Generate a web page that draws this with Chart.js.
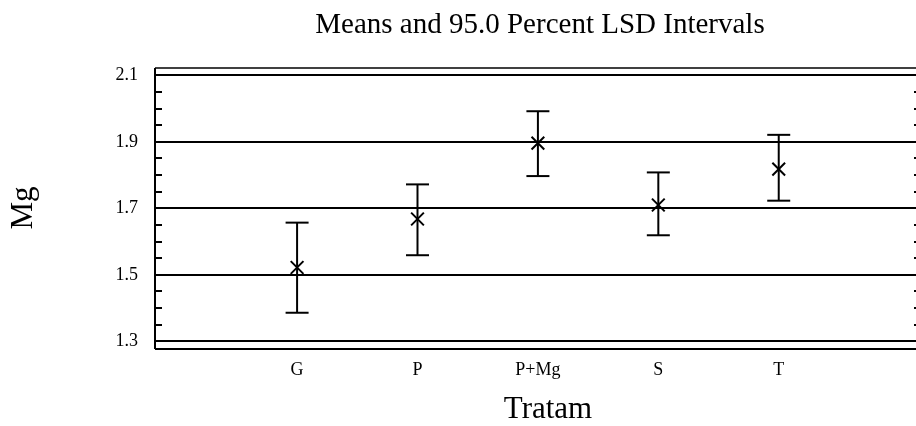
<!DOCTYPE html>
<html>
<head>
<meta charset="utf-8">
<script src="https://cdn.jsdelivr.net/npm/chart.js@4.4.1/dist/chart.umd.min.js"></script>
<style>
  html, body { margin: 0; padding: 0; background: #fff; overflow: hidden; }
  canvas { display: block; }
</style>
</head>
<body>
<canvas id="chart" width="916" height="426"></canvas>
<script>
// Data
const categories = ['G', 'P', 'P+Mg', 'S', 'T'];
const means = [1.522, 1.668, 1.896, 1.710, 1.818];
const lower = [1.386, 1.559, 1.797, 1.619, 1.723];
const upper = [1.657, 1.772, 1.992, 1.808, 1.921];
const yTicks = [1.3, 1.5, 1.7, 1.9, 2.1];
const yMinorTicks = [1.35, 1.4, 1.45, 1.55, 1.6, 1.65, 1.75, 1.8, 1.85, 1.95, 2.0, 2.05];

const serif = '"Liberation Serif", "DejaVu Serif", serif';

// Vertical segment for each interval
const barDatasets = categories.map((c, i) => ({
  type: 'scatter',
  data: [{ x: i + 1, y: lower[i] }, { x: i + 1, y: upper[i] }],
  showLine: true,
  borderColor: '#000',
  borderWidth: 2,
  pointRadius: 0,
}));

// Caps on both ends of the intervals
const capPoints = [];
categories.forEach((c, i) => {
  capPoints.push({ x: i + 1, y: lower[i] });
  capPoints.push({ x: i + 1, y: upper[i] });
});

const framePlugin = {
  id: 'frame',
  afterDraw(chart) {
    const { ctx, chartArea } = chart;
    const y = chart.scales.y;
    ctx.save();
    ctx.strokeStyle = '#000';
    ctx.lineWidth = 2;
    ctx.beginPath();
    ctx.moveTo(chartArea.left, chartArea.bottom);
    ctx.lineTo(chartArea.right, chartArea.bottom);
    ctx.moveTo(chartArea.left, chartArea.top);
    ctx.lineTo(chartArea.left, chartArea.bottom);
    // minor ticks, left side inward and right side at the edge
    yMinorTicks.forEach((v) => {
      const py = Math.round(y.getPixelForValue(v));
      ctx.moveTo(chartArea.left, py);
      ctx.lineTo(chartArea.left + 7, py);
      ctx.moveTo(chartArea.right - 2, py);
      ctx.lineTo(chartArea.right, py);
    });
    ctx.stroke();
    ctx.lineWidth = 1.5;
    ctx.beginPath();
    ctx.moveTo(chartArea.left, chartArea.top);
    ctx.lineTo(chartArea.right, chartArea.top);
    ctx.stroke();

    // texts
    ctx.fillStyle = '#000';
    ctx.textAlign = 'center';
    ctx.textBaseline = 'alphabetic';
    ctx.font = '29px ' + serif;
    ctx.fillText('Means and 95.0 Percent LSD Intervals', 540, 33);
    ctx.font = '31px ' + serif;
    ctx.fillText('Tratam', 548, 418);
    ctx.translate(32, 208);
    ctx.rotate(-Math.PI / 2);
    ctx.fillText('Mg', 0, 0);
    ctx.restore();
  },
};

new Chart(document.getElementById('chart'), {
  type: 'scatter',
  data: {
    datasets: [
      ...barDatasets,
      {
        data: capPoints,
        pointStyle: 'line',
        pointRadius: 11.5,
        borderColor: '#000',
        borderWidth: 2,
      },
      {
        data: means.map((m, i) => ({ x: i + 1, y: m })),
        pointStyle: 'crossRot',
        pointRadius: 9,
        borderColor: '#000',
        borderWidth: 2,
      },
    ],
  },
  options: {
    responsive: false,
    animation: false,
    devicePixelRatio: 1,
    layout: {
      autoPadding: false,
      padding: { top: 68, left: 0, right: 0, bottom: 0 },
    },
    plugins: {
      legend: { display: false },
      tooltip: { enabled: false },
    },
    scales: {
      x: {
        type: 'linear',
        min: -0.18,
        max: 6.14,
        afterBuildTicks: (scale) => {
          scale.ticks = categories.map((c, i) => ({ value: i + 1 }));
        },
        afterFit: (scale) => {
          scale.height = 77;
          scale.paddingLeft = 0;
          scale.paddingRight = 0;
        },
        grid: { display: false, drawTicks: false },
        border: { display: false },
        ticks: {
          padding: 10,
          color: '#000',
          font: { family: serif, size: 18 },
          callback: (value) => categories[value - 1],
          maxRotation: 0,
        },
      },
      y: {
        min: 1.277,
        max: 2.122,
        afterBuildTicks: (scale) => {
          scale.ticks = yTicks.map((v) => ({ value: v }));
        },
        afterFit: (scale) => {
          scale.width = 155;
          scale.paddingTop = 0;
          scale.paddingBottom = 0;
        },
        grid: { color: '#000', lineWidth: 2, drawTicks: false },
        border: { display: false },
        ticks: {
          padding: 17,
          color: '#000',
          font: { family: serif, size: 18 },
          callback: (value) => value.toFixed(1),
        },
      },
    },
  },
  plugins: [framePlugin],
});
</script>
</body>
</html>
